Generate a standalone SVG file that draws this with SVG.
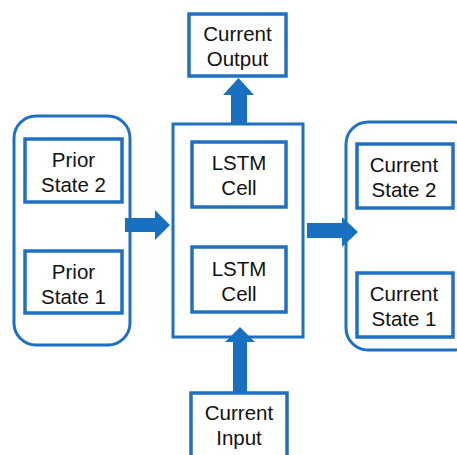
<svg xmlns="http://www.w3.org/2000/svg" width="457" height="455" viewBox="0 0 457 455">
<style>
.b{fill:#fff;stroke:#1F70C1;stroke-width:3.5}
.g{fill:none;stroke:#1F70C1;stroke-width:3}
.a{fill:#1A70C0}
text{font-family:"Liberation Sans",Arial,sans-serif;font-size:20.5px;fill:#111;text-anchor:middle}
</style>
<g id="prior-group"><rect class="g" x="14" y="116" width="116" height="229" rx="22"/></g>
<g id="prior2"><rect class="b" x="25" y="139" width="97" height="63"/><text x="73.5" y="167">Prior</text><text x="73.5" y="192">State 2</text></g>
<g id="prior1"><rect class="b" x="25" y="251" width="97" height="62"/><text x="73.5" y="279">Prior</text><text x="73.5" y="304">State 1</text></g>
<g id="center"><rect class="g" x="173" y="124" width="130" height="213"/></g>
<g id="lstm1"><rect class="b" x="192" y="142" width="94" height="65"/><text x="239" y="170">LSTM</text><text x="239" y="195">Cell</text></g>
<g id="lstm2"><rect class="b" x="192" y="247" width="94" height="65"/><text x="239" y="276">LSTM</text><text x="239" y="301">Cell</text></g>
<g id="output"><rect class="b" x="189" y="14" width="97" height="62"/><text x="237.5" y="41">Current</text><text x="237.5" y="66">Output</text></g>
<g id="input"><rect class="b" x="191" y="393" width="96" height="70"/><text x="239" y="420">Current</text><text x="239" y="445">Input</text></g>
<g id="current-group"><rect class="g" x="346" y="122" width="130" height="228" rx="22"/></g>
<g id="cur2"><rect class="b" x="357" y="144" width="96" height="64"/><text x="404" y="172">Current</text><text x="404" y="197">State 2</text></g>
<g id="cur1"><rect class="b" x="357" y="273" width="96" height="64"/><text x="404" y="301">Current</text><text x="404" y="326">State 1</text></g>
<g id="connectors">
<polygon class="a" points="125,218 155,218 155,210 170,225 155,240 155,232 125,232"/>
<polygon class="a" points="307,223 342,223 342,217 358,232 342,247 342,238 307,238"/>
<polygon class="a" points="231,123 231,95 223,95 238.5,78 254,95 247,95 247,123"/>
<polygon class="a" points="233,392 233,342 225,342 240,327 255,342 247,342 247,392"/>
</g>
</svg>
